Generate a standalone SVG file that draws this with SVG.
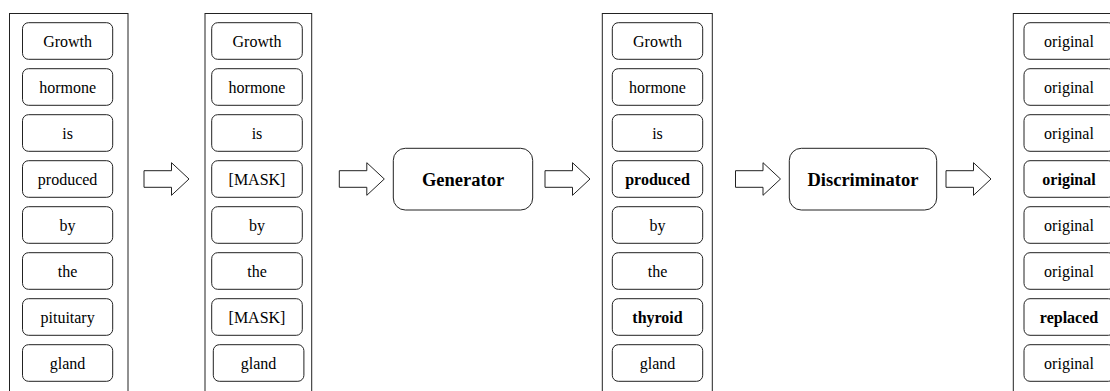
<svg xmlns="http://www.w3.org/2000/svg" xmlns:xlink="http://www.w3.org/1999/xlink" width="1110" height="391" viewBox="0 0 1110 391" font-family="'Liberation Serif', 'Times New Roman', 'DejaVu Serif', serif">
<style>
.outer{fill:#fff;stroke:#222;stroke-width:1}
.tok{fill:#fff;stroke:#222;stroke-width:1}
.big{fill:#fff;stroke:#222;stroke-width:1}
text{font-family:'Liberation Serif','Times New Roman','DejaVu Serif',serif}
.t{font-size:16px;fill:#000;text-anchor:middle}
.b{font-weight:bold}
.bt{font-size:18.5px;font-weight:bold;fill:#000;text-anchor:middle}
.arr{fill:#fff;stroke:#222;stroke-width:1;stroke-linejoin:miter}
</style>
<defs>
<polygon id="arrow" class="arr" points="0,-8.3 27.5,-8.3 27.5,-16.3 45,0 27.5,16.3 27.5,8.3 0,8.3"/>
</defs>
<rect width="1110" height="391" fill="#fff"/>

<g id="col-input">
<rect class="outer" x="9.5" y="13.5" width="118.5" height="400"/>
<g id="in-0"><rect class="tok" x="22.5" y="22.7" width="90.2" height="36.6" rx="6"/><text class="t" x="67.6" y="47">Growth</text></g>
<g id="in-1"><rect class="tok" x="22.5" y="68.7" width="90.2" height="36.6" rx="6"/><text class="t" x="67.6" y="93">hormone</text></g>
<g id="in-2"><rect class="tok" x="22.5" y="114.7" width="90.2" height="36.6" rx="6"/><text class="t" x="67.6" y="139">is</text></g>
<g id="in-3"><rect class="tok" x="22.5" y="160.7" width="90.2" height="36.6" rx="6"/><text class="t" x="67.6" y="185">produced</text></g>
<g id="in-4"><rect class="tok" x="22.5" y="206.7" width="90.2" height="36.6" rx="6"/><text class="t" x="67.6" y="231">by</text></g>
<g id="in-5"><rect class="tok" x="22.5" y="252.7" width="90.2" height="36.6" rx="6"/><text class="t" x="67.6" y="277">the</text></g>
<g id="in-6"><rect class="tok" x="22.5" y="298.7" width="90.2" height="36.6" rx="6"/><text class="t" x="67.6" y="323">pituitary</text></g>
<g id="in-7"><rect class="tok" x="22.5" y="344.7" width="90.2" height="36.6" rx="6"/><text class="t" x="67.6" y="369">gland</text></g>
</g>

<g id="col-masked">
<rect class="outer" x="205" y="13.5" width="106.7" height="400"/>
<g id="m-0"><rect class="tok" x="211.7" y="22.7" width="90.6" height="36.6" rx="6"/><text class="t" x="257" y="47">Growth</text></g>
<g id="m-1"><rect class="tok" x="211.7" y="68.7" width="90.6" height="36.6" rx="6"/><text class="t" x="257" y="93">hormone</text></g>
<g id="m-2"><rect class="tok" x="211.7" y="114.7" width="90.6" height="36.6" rx="6"/><text class="t" x="257" y="139">is</text></g>
<g id="m-3"><rect class="tok" x="211.7" y="160.7" width="90.6" height="36.6" rx="6"/><text class="t" x="257" y="185">[MASK]</text></g>
<g id="m-4"><rect class="tok" x="211.7" y="206.7" width="90.6" height="36.6" rx="6"/><text class="t" x="257" y="231">by</text></g>
<g id="m-5"><rect class="tok" x="211.7" y="252.7" width="90.6" height="36.6" rx="6"/><text class="t" x="257" y="277">the</text></g>
<g id="m-6"><rect class="tok" x="211.7" y="298.7" width="90.6" height="36.6" rx="6"/><text class="t" x="257" y="323">[MASK]</text></g>
<g id="m-7"><rect class="tok" x="213.3" y="344.7" width="90.6" height="36.6" rx="6"/><text class="t" x="258.6" y="369">gland</text></g>
</g>

<g id="generator">
<rect class="big" x="393.3" y="148.3" width="139.4" height="61.7" rx="12"/>
<text class="bt" x="463" y="185.6">Generator</text>
</g>

<g id="col-generated">
<rect class="outer" x="602.3" y="13.5" width="110" height="400"/>
<g id="g-0"><rect class="tok" x="612.3" y="22.7" width="90.4" height="36.6" rx="6"/><text class="t" x="657.5" y="47">Growth</text></g>
<g id="g-1"><rect class="tok" x="612.3" y="68.7" width="90.4" height="36.6" rx="6"/><text class="t" x="657.5" y="93">hormone</text></g>
<g id="g-2"><rect class="tok" x="612.3" y="114.7" width="90.4" height="36.6" rx="6"/><text class="t" x="657.5" y="139">is</text></g>
<g id="g-3"><rect class="tok" x="612.3" y="160.7" width="90.4" height="36.6" rx="6"/><text class="t b" x="657.5" y="185">produced</text></g>
<g id="g-4"><rect class="tok" x="612.3" y="206.7" width="90.4" height="36.6" rx="6"/><text class="t" x="657.5" y="231">by</text></g>
<g id="g-5"><rect class="tok" x="612.3" y="252.7" width="90.4" height="36.6" rx="6"/><text class="t" x="657.5" y="277">the</text></g>
<g id="g-6"><rect class="tok" x="612.3" y="298.7" width="90.4" height="36.6" rx="6"/><text class="t b" x="657.5" y="323">thyroid</text></g>
<g id="g-7"><rect class="tok" x="612.3" y="344.7" width="90.4" height="36.6" rx="6"/><text class="t" x="657.5" y="369">gland</text></g>
</g>

<g id="discriminator">
<rect class="big" x="789.3" y="148.3" width="147.4" height="61.7" rx="12"/>
<text class="bt" x="863" y="185.6">Discriminator</text>
</g>

<g id="col-output">
<rect class="outer" x="1013.3" y="13.5" width="110" height="400"/>
<g id="o-0"><rect class="tok" x="1024" y="22.7" width="90.4" height="36.6" rx="6"/><text class="t" x="1069" y="47">original</text></g>
<g id="o-1"><rect class="tok" x="1024" y="68.7" width="90.4" height="36.6" rx="6"/><text class="t" x="1069" y="93">original</text></g>
<g id="o-2"><rect class="tok" x="1024" y="114.7" width="90.4" height="36.6" rx="6"/><text class="t" x="1069" y="139">original</text></g>
<g id="o-3"><rect class="tok" x="1024" y="160.7" width="90.4" height="36.6" rx="6"/><text class="t b" x="1069" y="185">original</text></g>
<g id="o-4"><rect class="tok" x="1024" y="206.7" width="90.4" height="36.6" rx="6"/><text class="t" x="1069" y="231">original</text></g>
<g id="o-5"><rect class="tok" x="1024" y="252.7" width="90.4" height="36.6" rx="6"/><text class="t" x="1069" y="277">original</text></g>
<g id="o-6"><rect class="tok" x="1024" y="298.7" width="90.4" height="36.6" rx="6"/><text class="t b" x="1069" y="323">replaced</text></g>
<g id="o-7"><rect class="tok" x="1024" y="344.7" width="90.4" height="36.6" rx="6"/><text class="t" x="1069" y="369">original</text></g>
</g>

<g id="connectors">
<use xlink:href="#arrow" href="#arrow" x="144" y="179"/>
<use xlink:href="#arrow" href="#arrow" x="339.3" y="179"/>
<use xlink:href="#arrow" href="#arrow" x="545" y="179"/>
<use xlink:href="#arrow" href="#arrow" x="735.5" y="179"/>
<use xlink:href="#arrow" href="#arrow" x="946" y="179"/>
</g>
</svg>
